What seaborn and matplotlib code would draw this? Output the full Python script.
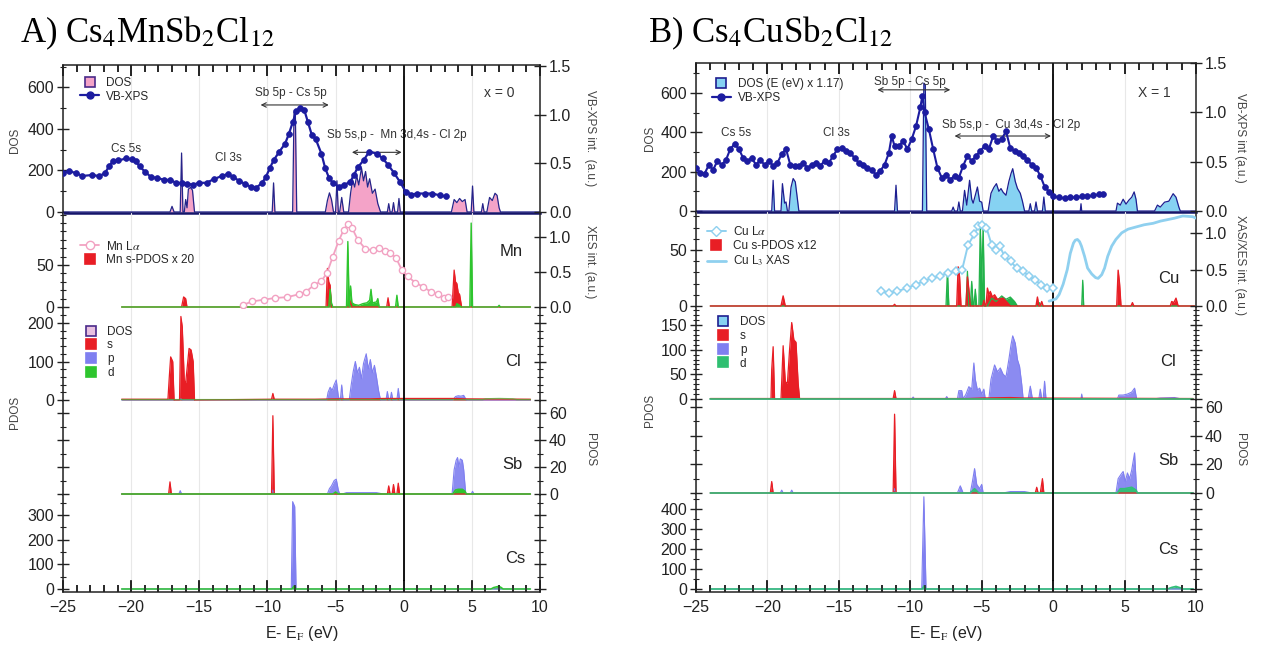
import matplotlib
matplotlib.use("Agg")
import matplotlib.pyplot as plt
import seaborn as sns
import matplotlib.transforms as mtrans
from matplotlib.lines import Line2D
from matplotlib.ticker import MultipleLocator, FixedLocator, NullFormatter, NullLocator

# ======================= DATA (energy E-E_F in eV, value) =======================
# ---------- Panel A : Cs4MnSb2Cl12 ----------
A_XPS = [(-25.0,0.40),(-24.58,0.42),(-24.02,0.40),(-23.6,0.37),(-22.89,0.38),(-22.33,0.37),(-21.91,0.40),
         (-21.63,0.47),(-21.35,0.52),(-20.93,0.53),(-20.37,0.55),(-19.94,0.54),(-19.66,0.52),(-19.38,0.47),
         (-18.96,0.41),(-18.54,0.36),(-18.12,0.35),(-17.56,0.33),(-17.13,0.33),(-16.71,0.30),(-16.29,0.30),
         (-15.87,0.29),(-15.45,0.28),(-15.03,0.30),(-14.47,0.30),(-13.9,0.34),(-13.34,0.37),(-12.92,0.39),
         (-12.5,0.36),(-12.08,0.32),(-11.66,0.29),(-11.24,0.26),(-10.81,0.25),(-10.39,0.30),(-10.11,0.36),
         (-9.83,0.45),(-9.55,0.53),(-9.13,0.62),(-8.71,0.70),(-8.43,0.80),(-8.15,0.92),(-7.87,1.04),
         (-7.58,1.07),(-7.3,1.05),(-7.02,0.92),(-6.74,0.79),(-6.46,0.75),(-6.04,0.60),(-5.76,0.45),
         (-5.48,0.35),(-5.2,0.30),(-4.78,0.26),(-4.35,0.28),(-3.93,0.31),(-3.65,0.38),(-3.37,0.46),
         (-2.95,0.53),(-2.53,0.62),(-1.97,0.60),(-1.54,0.55),(-1.12,0.48),(-0.7,0.40),(-0.28,0.31),
         (0.14,0.21),(0.56,0.18),(0.98,0.19),(1.54,0.19),(2.11,0.19),(2.67,0.17),(3.09,0.16)]
A_DOS = [(-25,0),(-17.15,0),(-17.0,27),(-16.85,0),(-16.4,0),(-16.3,284),(-16.2,0),(-16.1,0),(-16.0,60),
         (-15.9,20),(-15.8,110),(-15.65,118),(-15.5,105),(-15.35,0),(-9.65,0),(-9.55,140),(-9.45,0),
         (-8.15,0),(-8.05,480),(-7.95,470),(-7.85,0),(-5.75,0),(-5.6,55),(-5.45,92),(-5.3,60),(-5.15,0),
         (-5.0,0),(-4.9,150),(-4.8,0),(-4.7,0),(-4.55,70),(-4.4,0),(-4.05,0),(-3.9,90),(-3.75,155),
         (-3.6,120),(-3.45,175),(-3.3,130),(-3.1,212),(-2.95,150),(-2.8,195),(-2.65,120),(-2.5,160),
         (-2.3,90),(-2.1,110),(-1.9,40),(-1.7,0),(-1.2,0),(-1.1,40),(-1.0,0),(-0.85,0),(-0.75,45),
         (-0.65,0),(-0.45,0),(-0.35,65),(-0.25,0),(3.5,0),(3.7,60),(3.9,45),(4.1,65),(4.3,50),(4.5,60),
         (4.65,0),(4.95,0),(5.05,125),(5.15,0),(5.7,0),(5.8,40),(5.9,0),(6.1,0),(6.3,70),(6.5,55),
         (6.7,90),(6.85,80),(7.0,20),(7.1,0),(10,0)]
A_MnLa = [(-11.8,0.03),(-11.1,0.08),(-10.25,0.105),(-9.41,0.13),(-8.57,0.14),(-7.72,0.18),(-7.16,0.22),
          (-6.6,0.31),(-6.04,0.37),(-5.62,0.49),(-5.2,0.72),(-4.78,0.94),(-4.41,1.10),(-4.07,1.19),
          (-3.79,1.13),(-3.37,0.96),(-2.81,0.83),(-2.25,0.81),(-1.83,0.84),(-1.4,0.80),(-0.98,0.77),
          (-0.56,0.70),(-0.14,0.53),(0.28,0.44),(0.84,0.35),(1.4,0.29),(1.97,0.22),(2.53,0.18),
          (2.95,0.13),(3.23,0.14)]
A_Mn_s = [(-20.7,0),(-16.3,0),(-16.15,12),(-16.0,10),(-15.9,0),(-5.7,0),(-5.6,46),(-5.5,30),(-5.4,26),
          (-5.3,0),(-4.0,0),(-3.9,7),(-3.8,0),(-1.25,0),(-1.15,11),(-1.05,0),(3.55,0),(3.7,44),(3.8,30),
          (3.9,28),(4.0,17),(4.1,15),(4.25,0),(9.3,0)]
A_Mn_d = [(-20.7,0),(-5.5,0),(-5.4,21),(-5.3,5),(-5.2,0),(-4.2,0),(-4.1,78),(-4.0,0),(-3.9,25),(-3.8,5),
          (-3.6,3),(-3.3,2),(-3.0,4),(-2.7,5),(-2.5,8),(-2.4,21),(-2.3,5),(-2.0,6),(-1.9,10),(-1.8,0),
          (-0.6,0),(-0.5,14),(-0.4,0),(3.8,0),(3.9,4),(4.1,2),(4.2,0),(4.85,0),(4.95,100),(5.05,0),
          (6.9,0),(7.0,2),(7.1,0),(9.3,0)]
A_Cl_s = [(-20.7,2),(-17.3,2),(-17.2,60),(-17.1,112),(-16.95,100),(-16.85,0),(-16.45,0),(-16.35,217),
          (-16.25,190),(-16.1,50),(-16.0,45),(-15.9,80),(-15.75,134),(-15.6,130),(-15.45,100),(-15.35,0),
          (-9.7,2),(-9.6,17),(-9.5,2),(-6.5,2),(-5.0,3),(-2.5,3),(-1.5,4),(3.8,4),(4.5,3),(9.3,2)]
A_Cl_p = [(-20.7,0),(-16.45,0),(-16.35,3),(-16.25,0),(-5.65,0),(-5.55,20),(-5.4,33),(-5.25,25),(-5.1,40),
          (-4.95,52),(-4.8,10),(-4.7,0),(-4.65,0),(-4.55,39),(-4.45,0),(-4.0,0),(-3.85,40),(-3.7,75),
          (-3.55,100),(-3.4,70),(-3.25,85),(-3.1,55),(-2.95,95),(-2.75,120),(-2.6,80),(-2.45,105),
          (-2.3,70),(-2.15,90),(-2.0,60),(-1.85,25),(-1.7,0),(-1.3,0),(-1.2,22),(-1.1,0),(-1.0,0),
          (-0.9,20),(-0.8,0),(-0.5,0),(-0.4,30),(-0.3,0),(3.6,0),(3.8,9),(4.0,11),(4.2,10),(4.4,12),
          (4.6,0),(9.3,0)]
A_Cl_d = [(-20.7,1),(5.8,1),(6.0,3),(7.0,4),(8.0,3),(8.3,1),(9.3,1)]
A_Sb_s = [(-20.7,0),(-17.25,0),(-17.15,9),(-17.05,0),(-9.7,0),(-9.6,58),(-9.5,0),(-1.2,0),(-1.1,6),
          (-1.0,0),(-0.85,0),(-0.75,7),(-0.65,0),(-0.5,0),(-0.4,8),(-0.3,0),(9.3,0)]
A_Sb_p = [(-20.7,0),(-16.5,0),(-16.4,2.5),(-16.3,0),(-9.7,0),(-9.6,3),(-9.5,0),(-5.6,0),(-5.45,4),
          (-5.3,6),(-5.1,10),(-4.95,11),(-4.8,3),(-4.7,0),(-4.5,0),(-4.2,1),(-3.0,1),(-2.0,1),(-1.5,0),
          (3.55,0),(3.7,18),(3.85,25),(3.95,27),(4.05,20),(4.15,26),(4.3,25),(4.4,18),(4.55,0),
          (4.95,0),(5.05,2),(5.15,0),(9.3,0)]
A_Sb_d = [(-20.7,0),(-5.2,0),(-5.0,1.5),(-4.8,0),(3.6,0),(3.8,3),(4.0,3.5),(4.3,3.5),(4.5,2),(4.6,0),(9.3,0)]
A_Cs_p = [(-20.7,0),(-8.25,0),(-8.15,354),(-8.0,334),(-7.9,0),(9.3,0)]
A_Cs_d = [(-20.7,0),(-8.2,0),(-8.05,12),(-7.9,0),(6.4,0),(6.6,6),(6.9,10),(7.1,8),(7.3,0),(9.3,0)]

# ---------- Panel B : Cs4CuSb2Cl12 ----------
B_XPS = [(-25.0,0.44),(-24.7,0.39),(-24.4,0.38),(-24.1,0.47),(-23.8,0.42),(-23.5,0.51),(-23.2,0.47),
         (-22.9,0.52),(-22.6,0.63),(-22.3,0.68),(-22.0,0.63),(-21.7,0.54),(-21.4,0.51),(-21.1,0.54),
         (-20.8,0.47),(-20.5,0.52),(-20.2,0.47),(-19.9,0.51),(-19.6,0.46),(-19.3,0.49),(-19.0,0.58),
         (-18.7,0.63),(-18.4,0.47),(-18.1,0.46),(-17.8,0.46),(-17.5,0.49),(-17.2,0.44),(-16.9,0.47),
         (-16.6,0.49),(-16.3,0.46),(-16.0,0.51),(-15.7,0.49),(-15.4,0.56),(-15.1,0.63),(-14.8,0.64),
         (-14.5,0.61),(-14.2,0.59),(-13.9,0.54),(-13.6,0.49),(-13.3,0.47),(-13.0,0.44),(-12.7,0.42),
         (-12.4,0.37),(-12.1,0.41),(-11.8,0.47),(-11.5,0.59),(-11.3,0.76),(-11.1,0.66),(-10.8,0.66),
         (-10.5,0.71),(-10.2,0.63),(-9.9,0.73),(-9.6,0.86),(-9.3,1.05),(-9.15,1.17),(-9.0,1.00),
         (-8.7,0.83),(-8.4,0.63),(-8.1,0.44),(-7.8,0.34),(-7.5,0.37),(-7.2,0.32),(-6.9,0.36),
         (-6.6,0.34),(-6.3,0.46),(-6.0,0.56),(-5.7,0.51),(-5.4,0.56),(-5.1,0.61),(-4.8,0.66),
         (-4.5,0.63),(-4.2,0.76),(-3.9,0.71),(-3.6,0.73),(-3.3,0.81),(-3.0,0.64),(-2.7,0.61),
         (-2.4,0.59),(-2.1,0.56),(-1.8,0.52),(-1.5,0.47),(-1.2,0.44),(-0.9,0.36),(-0.6,0.25),
         (-0.3,0.20),(0.0,0.15),(0.4,0.14),(0.8,0.13),(1.2,0.14),(1.6,0.14),(2.0,0.15),(2.4,0.15),
         (2.8,0.16),(3.2,0.17),(3.5,0.18)]
B_DOS = [(-25,0),(-19.7,0),(-19.6,156),(-19.5,0),(-19.05,0),(-18.95,139),(-18.8,40),(-18.7,46),(-18.6,0),
         (-18.5,0),(-18.35,120),(-18.2,165),(-18.05,148),(-17.9,60),(-17.8,0),(-11.1,0),(-11.0,131),
         (-10.9,0),(-9.15,0),(-9.05,650),(-8.95,640),(-8.85,0),(-7.1,0),(-7.0,20),(-6.9,0),(-6.7,0),
         (-6.6,46),(-6.5,0),(-6.35,0),(-6.2,105),(-6.05,30),(-5.85,156),(-5.7,60),(-5.6,40),(-5.45,80),
         (-5.3,122),(-5.15,50),(-5.0,45),(-4.9,0),(-4.55,0),(-4.35,90),(-4.15,120),(-3.97,139),
         (-3.8,100),(-3.65,114),(-3.5,95),(-3.3,80),(-3.1,150),(-2.95,190),(-2.83,215),(-2.65,150),
         (-2.5,115),(-2.3,90),(-2.15,50),(-2.0,0),(-1.7,0),(-1.6,37),(-1.5,0),(-1.3,0),(-1.2,46),
         (-1.1,0),(-0.75,0),(-0.65,71),(-0.55,0),(1.9,0),(1.95,37),(2.0,0),(4.4,0),(4.5,40),(4.7,30),
         (4.9,60),(5.1,35),(5.3,55),(5.5,70),(5.67,97),(5.8,60),(5.9,0),(7.1,0),(7.3,30),(7.5,20),
         (7.8,45),(8.1,50),(8.4,88),(8.6,70),(8.8,20),(8.9,0),(10,0)]
B_CuLa = [(-12.04,0.205),(-11.47,0.18),(-10.91,0.205),(-10.2,0.25),(-9.63,0.295),(-9.07,0.34),
          (-8.5,0.385),(-7.93,0.41),(-7.37,0.455),(-6.8,0.48),(-6.37,0.50),(-5.95,0.84),(-5.52,0.98),
          (-5.24,1.09),(-4.96,1.11),(-4.67,1.07),(-4.31,0.84),(-3.97,0.77),(-3.74,0.82),(-3.4,0.68),
          (-2.97,0.61),(-2.55,0.52),(-2.12,0.48),(-1.7,0.41),(-1.27,0.36),(-0.85,0.295),(-0.42,0.25),
          (0.0,0.25)]
B_XAS = [(-0.28,0.07),(0.2,0.10),(0.42,0.16),(0.7,0.30),(0.99,0.50),(1.2,0.72),(1.42,0.86),(1.55,0.90),
         (1.70,0.91),(1.85,0.88),(1.98,0.82),(2.2,0.68),(2.41,0.52),(2.7,0.44),(2.97,0.39),(3.15,0.38),
         (3.40,0.43),(3.6,0.52),(3.82,0.68),(4.1,0.82),(4.39,0.91),(4.8,1.00),(5.24,1.05),(5.8,1.08),
         (6.37,1.11),(7.0,1.13),(7.51,1.16),(8.5,1.20),(9.07,1.23),(9.77,1.22),(10.0,1.20)]
B_Cu_s = [(-24.0,0),(-19.05,0),(-18.9,9),(-18.75,0),(-11.2,0),(-11.1,1.5),(-11.0,0),(-6.75,0),(-6.65,35),
          (-6.55,26),(-6.45,0),(-6.1,0),(-6.0,26),(-5.9,15),(-5.8,0),(-4.95,0),(-4.85,5),(-4.75,0),
          (-4.7,0),(-4.6,16),(-4.5,10),(-4.4,13),(-4.25,8),(-4.1,10),(-3.9,6),(-3.5,7),(-3.2,3),(-3.0,0),
          (-1.2,0),(-1.1,8),(-1.0,0),(-0.9,0),(-0.8,4),(-0.7,0),(4.45,0),(4.55,32),(4.65,20),(4.75,0),
          (5.45,0),(5.55,3),(5.65,0),(8.2,0),(8.3,4),(8.45,3),(8.6,7),(8.75,0),(9.9,0)]
B_Cu_d = [(-24.0,0),(-7.5,0),(-7.4,32),(-7.3,0),(-6.1,0),(-6.0,31),(-5.9,0),(-5.8,0),(-5.7,22),(-5.6,0),
          (-5.55,0),(-5.45,15),(-5.35,0),(-5.2,0),(-5.1,73),(-5.0,20),(-4.9,72),(-4.8,0),(-4.6,0),
          (-4.3,7),(-4.0,4),(-3.6,9),(-3.3,6),(-3.0,8),(-2.7,4),(-2.5,0),(-1.05,0),(-0.95,3),(-0.85,0),
          (2.0,0),(2.07,23),(2.14,0),(9.9,0)]
B_Cl_s = [(-24.0,1),(-19.75,1),(-19.7,60),(-19.6,106),(-19.5,0),(-19.05,0),(-18.9,108),(-18.75,35),
          (-18.6,32),(-18.45,100),(-18.3,155),(-18.15,120),(-18.0,115),(-17.85,32),(-17.75,1),
          (-11.2,1),(-11.1,17),(-11.0,1),(-6.0,1),(-5.0,2),(-3.0,3),(-2.0,2),(9.8,1)]
B_Cl_p = [(-24.0,0),(-9.9,0),(-9.8,4),(-9.7,0),(-7.55,0),(-7.45,5),(-7.35,0),(-6.7,0),(-6.6,17),(-6.4,17),
          (-6.3,0),(-6.1,10),(-5.9,25),(-5.7,20),(-5.55,73),(-5.45,40),(-5.3,18),(-5.15,22),(-5.0,10),
          (-4.85,20),(-4.75,0),(-4.5,0),(-4.35,40),(-4.1,69),(-3.9,55),(-3.7,63),(-3.5,50),(-3.3,45),
          (-3.1,80),(-2.95,110),(-2.83,128),(-2.65,113),(-2.5,80),(-2.35,66),(-2.2,30),(-2.1,0),
          (-1.75,0),(-1.6,26),(-1.45,0),(-1.0,0),(-0.9,20),(-0.8,0),(-0.7,0),(-0.6,36),(-0.5,0),
          (1.95,0),(2.0,10),(2.05,0),(4.5,0),(4.6,8),(4.9,8),(5.2,10),(5.5,14),(5.7,22),(5.85,0),
          (7.0,0),(7.5,2),(8.5,3),(9.0,0),(9.8,0)]
B_Cl_d = [(-24.0,0.5),(9.8,0.5)]
B_Sb_s = [(-24.0,0),(-19.8,0),(-19.7,8),(-19.6,0),(-11.2,0),(-11.1,55),(-11.0,0),(-1.25,0),(-1.15,4),
          (-1.05,0),(-0.9,0),(-0.75,10),(-0.65,0),(9.8,0)]
B_Sb_p = [(-24.0,0),(-19.1,0),(-19.0,2),(-18.9,0),(-18.4,0),(-18.3,2),(-18.2,0),(-11.2,0),(-11.1,3),
          (-11.0,0),(-6.7,0),(-6.5,5),(-6.3,0),(-5.8,0),(-5.65,8),(-5.5,17),(-5.35,6),(-5.15,3),
          (-5.0,6),(-4.9,0),(-3.5,0),(-3.0,1),(-2.0,1),(-1.5,0),(4.4,0),(4.55,10),(4.75,13),(4.9,15),
          (5.05,8),(5.2,14),(5.35,10),(5.5,16),(5.7,28),(5.85,0),(9.8,0)]
B_Sb_d = [(-24.0,0),(-5.8,0),(-5.5,3),(-5.2,0),(4.5,0),(4.7,3),(5.0,3),(5.5,4),(5.8,2),(5.9,0),(9.8,0)]
B_Cs_p = [(-24.0,0),(-9.2,0),(-9.05,461),(-8.9,0),(9.8,0)]
B_Cs_d = [(-24.0,0),(-9.15,0),(-9.05,15),(-8.9,0),(8.0,0),(8.3,8),(8.6,13),(8.9,6),(9.1,0),(9.8,0)]

X_TICKS = [-25, -20, -15, -10, -5, 0, 5, 10]

# ======================= STYLE =======================
sns.set_theme(style="ticks")
plt.rcParams["font.family"] = ["Liberation Sans", "DejaVu Sans"]
plt.rcParams["mathtext.fontset"] = "stix"
plt.rcParams["axes.linewidth"] = 1.1
plt.rcParams["axes.edgecolor"] = "#222222"

NAVY = "#1c1ca0"
PINK = "#f4a3c8"
LBLUE = "#86d2f2"
RED = "#e81e25"
PBLUE = "#7f7ff0"
GREEN_A = "#2ec52e"
GREEN_B = "#32bf78"
MNPINK = "#f2a2c2"
CULIGHT = "#8fd0ef"
TXT = "#333333"

W, H = 1263, 645
fig = plt.figure(figsize=(W / 100, H / 100), dpi=100)


def E(p):
    return [q[0] for q in p]


def V(p):
    return [q[1] for q in p]


def line(ax, pts, color, lw=0.9, z=3, **kw):
    sns.lineplot(x=E(pts), y=V(pts), ax=ax, color=color, lw=lw, sort=False,
                 estimator=None, zorder=z, legend=False, **kw)


def filled(ax, pts, fc, ec, lw=0.8, alpha=1.0, z=2):
    ax.fill_between(E(pts), 0, V(pts), facecolor=fc, alpha=alpha, lw=0, zorder=z)
    line(ax, pts, ec, lw=lw, z=z + 0.1)


def rect(x0, x1, yt, yb):
    return [x0 / W, 1 - yb / H, (x1 - x0) / W, (yb - yt) / H]


def add_ax(x0, x1, yt, yb):
    ax = fig.add_axes(rect(x0, x1, yt, yb))
    ax.patch.set_alpha(0)
    return ax


def tick_overlay(x0, x1, yt, yb, where):
    """independent frameless axes that only carries the x tick marks of one edge"""
    ov = fig.add_axes(rect(x0, x1, yt, yb), zorder=5)
    ov.patch.set_visible(False)
    ov.set_xlim(-25, 10)
    ov.set_ylim(0, 1)
    ov.yaxis.set_visible(False)
    for s in ov.spines.values():
        s.set_visible(False)
    ov.xaxis.set_major_locator(FixedLocator(X_TICKS))
    ov.xaxis.set_minor_locator(MultipleLocator(1))
    ov.tick_params(axis="x", which="both", top=(where == "top"), bottom=(where == "bottom"),
                   labelbottom=False, labeltop=False, direction="in", colors="#222222")
    ov.tick_params(axis="x", which="major", length=8, width=1.2)
    ov.tick_params(axis="x", which="minor", length=5, width=1.1)
    return ov


def setup(ax, ylim, rylim, lmaj, lmin, rmaj, rmin, llab, rlab, kind):
    tw = ax.twinx()
    tw.patch.set_alpha(0)
    ax.set_xlim(-25, 10)
    ax.set_ylim(*ylim)
    tw.set_ylim(*rylim)
    ax.yaxis.set_major_locator(FixedLocator(lmaj))
    ax.yaxis.set_minor_locator(MultipleLocator(lmin) if lmin else NullLocator())
    tw.yaxis.set_major_locator(FixedLocator(rmaj))
    tw.yaxis.set_minor_locator(MultipleLocator(rmin) if rmin else NullLocator())
    if not llab:
        ax.yaxis.set_major_formatter(NullFormatter())
    if not rlab:
        tw.yaxis.set_major_formatter(NullFormatter())
    for a in (ax, tw):
        a.tick_params(axis="y", which="major", direction="inout", length=9, width=1.0,
                      labelsize=11.5, pad=2, colors="#222222")
        a.tick_params(axis="y", which="minor", direction="inout", length=5, width=0.8,
                      colors="#222222")
    for s in ("top", "bottom", "right"):
        ax.spines[s].set_visible(False)
    for s in ("top", "bottom", "left"):
        tw.spines[s].set_visible(False)
    ax.xaxis.set_major_locator(FixedLocator(X_TICKS))
    ax.xaxis.set_minor_locator(MultipleLocator(1))
    ax.grid(axis="x", which="major", color="#e8e8e8", lw=0.8)
    ax.set_axisbelow(True)
    if kind == "top":
        ax.spines["top"].set_visible(True)
        ax.spines["bottom"].set_visible(True)
        ax.spines["bottom"].set_color("#15156a")
        ax.spines["bottom"].set_linewidth(1.8)
        ax.tick_params(axis="x", which="both", top=True, bottom=False, labelbottom=False,
                       direction="in", colors="#222222")
        ax.tick_params(axis="x", which="major", length=8, width=1.2)
        ax.tick_params(axis="x", which="minor", length=5, width=1.1)
    elif kind == "bottom":
        ax.spines["bottom"].set_visible(True)
        ax.tick_params(axis="x", which="both", top=False, bottom=True, direction="in",
                       colors="#222222")
        ax.tick_params(axis="x", which="major", length=9, width=1.2, labelsize=11.5, pad=6)
        ax.tick_params(axis="x", which="minor", length=5, width=1.1)
    else:
        ax.tick_params(axis="x", which="both", top=False, bottom=False, labelbottom=False)
    ax.axvline(0, color="black", lw=1.3, zorder=6)
    return tw


def bt(ax):
    return mtrans.blended_transform_factory(ax.transData, ax.transAxes)


def arrow(ax, x0, x1, yf):
    ax.annotate("", xy=(x1, yf), xytext=(x0, yf), xycoords=bt(ax), textcoords=bt(ax),
                arrowprops=dict(arrowstyle="<->", lw=0.8, color=TXT, shrinkA=0, shrinkB=0,
                                mutation_scale=8))


def sq(fc, ec=None):
    return Line2D([], [], ls="none", marker="s", ms=7, mfc=fc, mec=ec or fc, mew=1.2)


LEG = dict(frameon=False, fontsize=8.5, handlelength=1.6, handletextpad=0.6,
           labelspacing=0.15, borderpad=0, borderaxespad=0, loc="upper left")


def ftext(x, y, s, **kw):
    fig.text(x / W, 1 - y / H, s, **kw)


# ======================= PANEL A =======================
xa0, xa1 = 63, 540
aT = add_ax(xa0, xa1, 65, 213)
aM = add_ax(xa0, xa1, 213, 308)
aC = add_ax(xa0, xa1, 308, 401)
aS = add_ax(xa0, xa1, 401, 495)
aX = add_ax(xa0, xa1, 495, 592)

tT = setup(aT, (-5, 708), (-0.01, 1.51), [0, 200, 400, 600], 100, [0, 0.5, 1.0, 1.5], None, True, True, "top")
tM = setup(aM, (-1.2, 112), (-0.0143, 1.343), [0, 50], 10, [0, 0.5, 1.0], None, True, True, "mid")
tC = setup(aC, (-2.6, 239), (-2.6, 239), [0, 100, 200], 20, [0, 100, 200], 20, True, False, "mid")
tS = setup(aS, (-0.74, 68.9), (-0.74, 68.9), [0, 20, 40, 60], 10, [0, 20, 40, 60], 10, False, True, "mid")
tX = setup(aX, (-12.2, 381), (-12.2, 381), [0, 100, 200, 300], 50, [0, 100, 200, 300], 50, True, False, "bottom")

filled(aT, A_DOS, PINK, "#25258a", lw=0.9)
line(tT, A_XPS, NAVY, lw=1.6, z=4, marker="o", markersize=4.2, markeredgecolor=NAVY,
     markerfacecolor=NAVY, markeredgewidth=0.5)

filled(aM, A_Mn_s, RED, RED, lw=0.9)
filled(aM, A_Mn_d, GREEN_A, GREEN_A, lw=1.0)
line(tM, A_MnLa, MNPINK, lw=1.3, z=4, marker="o", markersize=4.5, markerfacecolor="white",
     markeredgecolor=MNPINK, markeredgewidth=1.0)

filled(aC, A_Cl_p, PBLUE, PBLUE, lw=0.8, alpha=0.9)
filled(aC, A_Cl_s, RED, RED, lw=0.9)
line(aC, A_Cl_d, GREEN_A, lw=1.0, z=3, alpha=0.6)

filled(aS, A_Sb_p, PBLUE, PBLUE, lw=0.8, alpha=0.9)
filled(aS, A_Sb_s, RED, RED, lw=0.9)
filled(aS, A_Sb_d, GREEN_A, GREEN_A, lw=1.1)

filled(aX, A_Cs_p, PBLUE, PBLUE, lw=0.8)
filled(aX, A_Cs_d, GREEN_A, GREEN_A, lw=1.1)

aT.text(-20.4, 0.43, "Cs 5s", transform=bt(aT), fontsize=8.5, color=TXT, ha="center", va="center")
aT.text(-12.9, 0.37, "Cl 3s", transform=bt(aT), fontsize=8.5, color=TXT, ha="center", va="center")
aT.text(-8.25, 0.81, "Sb 5p - Cs 5p", transform=bt(aT), fontsize=8.5, color=TXT, ha="center", va="center")
arrow(aT, -10.5, -5.5, 0.73)
aT.text(-5.6, 0.53, "Sb 5s,p -  Mn 3d,4s - Cl 2p", transform=bt(aT), fontsize=8.5, color=TXT,
        ha="left", va="center")
arrow(aT, -3.8, -0.15, 0.41)
aT.text(7.0, 0.81, "x = 0", transform=bt(aT), fontsize=10, color=TXT, ha="center", va="center")
aT.legend([sq(PINK, "#4a2a8a"), Line2D([], [], color=NAVY, lw=1.6, marker="o", ms=5)],
          ["DOS", "VB-XPS"], bbox_to_anchor=(0.036, 0.92), **LEG)
aM.legend([Line2D([], [], color=MNPINK, lw=1.3, marker="o", ms=6, mfc="white", mec=MNPINK),
           sq(RED)], ["Mn L$\\alpha$", "Mn s-PDOS x 20"], bbox_to_anchor=(0.036, 0.72), **LEG)
aC.legend([sq("#e8c0e0", "#4a2a8a"), sq(RED), sq(PBLUE), sq(GREEN_A)], ["DOS", "s", "p", "d"],
          bbox_to_anchor=(0.038, 0.81), **LEG)
aM.text(7.85, 0.59, "Mn", transform=bt(aM), fontsize=12, color="#222222", ha="center", va="center")
aC.text(8.0, 0.42, "Cl", transform=bt(aC), fontsize=12, color="#222222", ha="center", va="center")
aS.text(8.0, 0.32, "Sb", transform=bt(aS), fontsize=12, color="#222222", ha="center", va="center")
aX.text(8.15, 0.35, "Cs", transform=bt(aX), fontsize=12, color="#222222", ha="center", va="center")
aX.set_xlabel("E- E$_\\mathrm{F}$ (eV)", fontsize=11.5, color="#222222", labelpad=6)

# ======================= PANEL B =======================
xb0, xb1 = 696, 1196
bT = add_ax(xb0, xb1, 63, 212)
bM = add_ax(xb0, xb1, 212, 307)
bC = add_ax(xb0, xb1, 307, 400)
bS = add_ax(xb0, xb1, 400, 494)
bX = add_ax(xb0, xb1, 494, 592)

uT = setup(bT, (-5, 752), (-0.007, 1.5), [0, 200, 400, 600], 100, [0, 0.5, 1.0, 1.5], None, True, True, "top")
uM = setup(bM, (-0.9, 84), (-0.01, 1.284), [0, 50], 10, [0, 0.5, 1.0], None, True, True, "mid")
uC = setup(bC, (-2, 186.5), (-2, 186.5), [0, 50, 100, 150], 10, [0, 50, 100, 150], 10, True, False, "mid")
uS = setup(bS, (-0.7, 64.9), (-0.7, 64.9), [0, 20, 40, 60], 10, [0, 20, 40, 60], 10, False, True, "mid")
uX = setup(bX, (-15, 475), (-15, 475), [0, 100, 200, 300, 400], 50, [0, 100, 200, 300, 400], 50, True, False, "bottom")

filled(bT, B_DOS, LBLUE, "#1e1e90", lw=0.9)
line(uT, B_XPS, NAVY, lw=1.5, z=4, marker="o", markersize=4.2, markeredgecolor=NAVY,
     markerfacecolor=NAVY, markeredgewidth=0.5)

filled(bM, B_Cu_d, "#22b34a", "#22b34a", lw=0.9)
filled(bM, B_Cu_s, RED, RED, lw=1.0)
line(uM, B_XAS, CULIGHT, lw=2.0, z=4)
line(uM, B_CuLa, CULIGHT, lw=1.4, z=4, marker="D", markersize=4.2, markerfacecolor="white",
     markeredgecolor=CULIGHT, markeredgewidth=1.1)

filled(bC, B_Cl_p, PBLUE, PBLUE, lw=0.8, alpha=0.9)
filled(bC, B_Cl_s, RED, RED, lw=0.9)
line(bC, B_Cl_d, GREEN_B, lw=1.2, z=3)

filled(bS, B_Sb_p, PBLUE, PBLUE, lw=0.8, alpha=0.9)
filled(bS, B_Sb_s, RED, RED, lw=0.9)
filled(bS, B_Sb_d, GREEN_B, GREEN_B, lw=1.2)

filled(bX, B_Cs_p, PBLUE, PBLUE, lw=0.8)
filled(bX, B_Cs_d, GREEN_B, GREEN_B, lw=1.2)

bT.text(-22.2, 0.53, "Cs 5s", transform=bt(bT), fontsize=8.5, color=TXT, ha="center", va="center")
bT.text(-15.2, 0.53, "Cl 3s", transform=bt(bT), fontsize=8.5, color=TXT, ha="center", va="center")
bT.text(-10.0, 0.87, "Sb 5p - Cs 5p", transform=bt(bT), fontsize=8.5, color=TXT, ha="center", va="center")
arrow(bT, -12.3, -7.2, 0.82)
bT.text(-7.8, 0.585, "Sb 5s,p -  Cu 3d,4s - Cl 2p", transform=bt(bT), fontsize=8.5, color=TXT,
        ha="left", va="center")
arrow(bT, -6.9, -0.15, 0.51)
bT.text(7.1, 0.80, "X = 1", transform=bt(bT), fontsize=10, color=TXT, ha="center", va="center")
bT.legend([sq(LBLUE, "#1e1e90"), Line2D([], [], color=NAVY, lw=1.6, marker="o", ms=5)],
          ["DOS (E (eV) x 1.17)", "VB-XPS"], bbox_to_anchor=(0.032, 0.90), **LEG)
bM.legend([Line2D([], [], color=CULIGHT, lw=1.4, marker="D", ms=5, mfc="white", mec=CULIGHT),
           sq(RED), Line2D([], [], color=CULIGHT, lw=2.0)],
          ["Cu L$\\alpha$", "Cu s-PDOS x12", "Cu L$_3$ XAS"], bbox_to_anchor=(0.022, 0.86), **LEG)
bC.legend([sq(LBLUE, "#1e1e90"), sq(RED), sq(PBLUE), sq("#2fbf71")], ["DOS", "s", "p", "d"],
          bbox_to_anchor=(0.036, 0.90), **LEG)
bM.text(8.07, 0.305, "Cu", transform=bt(bM), fontsize=12, color="#222222", ha="center", va="center")
bC.text(8.07, 0.41, "Cl", transform=bt(bC), fontsize=12, color="#222222", ha="center", va="center")
bS.text(8.1, 0.36, "Sb", transform=bt(bS), fontsize=12, color="#222222", ha="center", va="center")
bX.text(8.07, 0.43, "Cs", transform=bt(bX), fontsize=12, color="#222222", ha="center", va="center")
bX.set_xlabel("E- E$_\\mathrm{F}$ (eV)", fontsize=11.5, color="#222222", labelpad=6)

# ======================= x tick rows (top of DOS panels, bottom of Cs panels) =======================
tick_overlay(xa0, xa1, 65, 213, "top")
tick_overlay(xa0, xa1, 495, 592, "bottom")
tick_overlay(xb0, xb1, 63, 212, "top")
tick_overlay(xb0, xb1, 494, 592, "bottom")

# ======================= AXIS TITLES / PANEL TITLES =======================
lab = dict(fontsize=8.5, color="#444444", ha="center", va="center")
ftext(15, 140, "DOS", rotation=90, **lab)
ftext(15, 412, "PDOS", rotation=90, **lab)
ftext(590, 138, "VB-XPS int.  (a.u.)", rotation=-90, **lab)
ftext(590, 262, "XES int. (a.u.)", rotation=-90, **lab)
ftext(590, 450, "PDOS", rotation=-90, **lab)
ftext(650, 138, "DOS", rotation=90, **lab)
ftext(650, 410, "PDOS", rotation=90, **lab)
ftext(1240, 138, "VB-XPS int (a.u.)", rotation=-90, **lab)
ftext(1240, 265, "XAS/XES int. (a.u.)", rotation=-90, **lab)
ftext(1240, 450, "PDOS", rotation=-90, **lab)

ttl = dict(fontsize=25, color="black", ha="left", va="center", family="Liberation Serif")
ftext(20, 33, "A) Cs$_4$MnSb$_2$Cl$_{12}$", **ttl)
ftext(648, 33, "B) Cs$_4$CuSb$_2$Cl$_{12}$", **ttl)

fig.savefig("out.png", dpi=100)
